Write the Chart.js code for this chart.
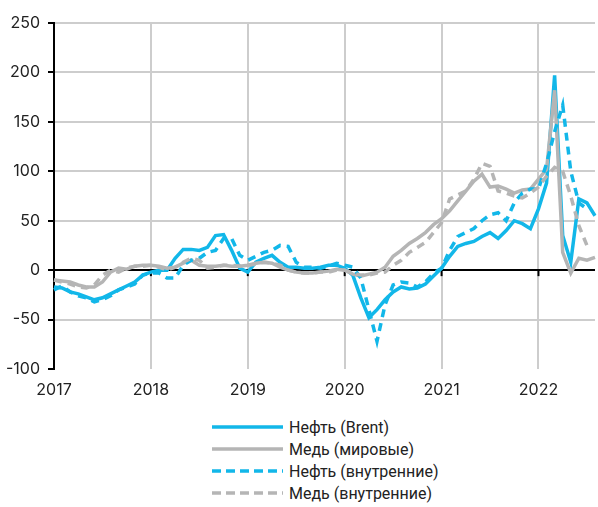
<!DOCTYPE html>
<html lang="ru">
<head>
  <meta charset="UTF-8">
  <title>Нефть и медь</title>
  <script src="https://cdn.jsdelivr.net/npm/chart.js"></script>
  <style>
    body { margin: 0; background: #fff; }
    #wrap { width: 598px; height: 400px; }
    #legend { margin-left: 212px; margin-top: 16px; font-family: Roboto, sans-serif; font-size: 16px; color: #222; }
    .item { display: flex; align-items: center; height: 22px; }
    .item svg { margin-right: 6px; }
  </style>
</head>
<body>
  <div id="wrap"><canvas id="chart" width="598" height="400"></canvas></div>
  <div id="legend"></div>
  <script>
    // ticks on the x axis, one per year; monthly data Jan 2017 - Aug 2022
    const years = ['2017', '2018', '2019', '2020', '2021', '2022'];
    const lastYearMonths = 8;

    const brent = [
      -17, -18, -22, -24, -27, -30, -28, -24, -20, -16, -12, -5,
      -2, 0, 0, 12, 21, 21, 20, 23, 35, 36, 20, 2,
      -2, 8, 12, 15, 8, 3, 3, 2, 2, 3, 5, 5,
      2, -5, -28, -48, -40, -30, -22, -17, -19, -18, -14, -6,
      2, 14, 24, 27, 29, 34, 38, 32, 40, 50, 47, 42,
      62, 88, 197, 35, 8, 72, 68, 55
    ];
    const copper = [
      -10, -11, -12, -15, -17, -17, -12, -2, 2, 1, 4, 5,
      5, 4, 2, 3, 7, 10, 5, 4, 4, 5, 4, 4,
      5, 7, 8, 7, 3, 0, -2, -3, -3, -2, -1, 1,
      0, -4, -6, -4, -2, 3, 14, 20, 27, 32, 38, 46,
      52, 60, 70, 80, 90, 97, 84, 85, 82, 78, 81, 82,
      92, 102, 182, 18, -3, 12, 10, 13
    ];
    const brentDom = [
      -20, -16, -22, -26, -28, -32, -30, -26, -20, -17, -14, -5,
      -3, -3, -8, -8, 5, 10, 12, 18, 20, 32, 32, 15,
      10, 14, 18, 20, 25, 24, 8, 3, 3, 2, 4, 7,
      5, 3, -8, -40, -72, -35, -15, -12, -13, -17, -12, -3,
      2, 20, 34, 38, 42, 50, 56, 58, 50, 68, 78, 82,
      82, 108, 140, 167, 100, 68, 62, null
    ];
    const copperDom = [
      -10, -12, -14, -17, -18, -15, -5, 0, -2, 2, 4, 4,
      5, 3, 0, 3, 8, 12, 10, 2, 3, 5, 5, 4,
      5, 6, 8, 7, 5, 0, -2, -3, -3, -2, -2, 0,
      0, -3, -5, -5, -3, -2, 5, 10, 18, 23, 28, 38,
      48, 72, 76, 80, 92, 108, 105, 80, 78, 75, 73, 78,
      84, 95, 104, 100, 75, 45, 25, null
    ];

    const BLUE = '#12b7e9';
    const GREY = '#b5b5b5';

    const labels = [];
    years.forEach((y, i) => {
      const n = i === years.length - 1 ? lastYearMonths : 12;
      for (let m = 1; m <= n; m++) labels.push(y + '-' + String(m).padStart(2, '0'));
    });

    const series = [
      { label: 'Нефть (Brent)', data: brent, color: BLUE, dash: [] },
      { label: 'Медь (мировые)', data: copper, color: GREY, dash: [] },
      { label: 'Нефть (внутренние)', data: brentDom, color: BLUE, dash: [8, 6] },
      { label: 'Медь (внутренние)', data: copperDom, color: GREY, dash: [8, 6] }
    ];

    // small black tick marks on the zero line at every January
    const zeroTicks = {
      id: 'zeroTicks',
      beforeDatasetsDraw(chart) {
        const c = chart.ctx, x = chart.scales.x, y0 = chart.scales.y.getPixelForValue(0);
        c.save();
        c.strokeStyle = '#000';
        c.lineWidth = 2;
        labels.forEach((l, i) => {
          if (i % 12 !== 0) return;
          const px = x.getPixelForValue(i);
          c.beginPath();
          c.moveTo(px, y0);
          c.lineTo(px, y0 + 6);
          c.stroke();
        });
        c.restore();
      }
    };

    new Chart(document.getElementById('chart'), {
      type: 'line',
      data: {
        labels: labels,
        datasets: series.map(s => ({
          label: s.label,
          data: s.data,
          borderColor: s.color,
          borderWidth: 3.5,
          borderDash: s.dash,
          pointRadius: 0,
          tension: 0,
          fill: false
        })).reverse()
      },
      options: {
        responsive: false,
        animation: false,
        layout: { padding: { top: 23, right: 3 } },
        plugins: { legend: { display: false }, tooltip: { enabled: false } },
        scales: {
          x: {
            border: { display: false },
            grid: { color: '#cdcdcd', lineWidth: 2, drawTicks: false },
            ticks: {
              autoSkip: false,
              maxRotation: 0,
              padding: 12,
              color: '#222',
              font: { family: 'Inter', size: 16 },
              callback: (v, i) => (i % 12 === 0 ? years[i / 12] : null)
            },
            afterFit: s => { s.height = 31; }
          },
          y: {
            min: -100,
            max: 250,
            border: { display: true, color: '#000', width: 2 },
            grid: {
              lineWidth: 2,
              tickLength: 6,
              tickColor: '#000',
              color: ctx => ctx.tick.value === 0 ? '#000' : (ctx.tick.value === -100 ? 'rgba(0,0,0,0)' : '#cdcdcd')
            },
            ticks: {
              stepSize: 50,
              padding: 8,
              color: '#222',
              font: { family: 'Inter', size: 16 }
            },
            afterFit: s => { s.width = 54; }
          }
        }
      },
      plugins: [zeroTicks]
    });

    // legend as a column under the chart
    const legend = document.getElementById('legend');
    series.forEach(s => {
      const row = document.createElement('div');
      row.className = 'item';
      row.innerHTML = '<svg width="71" height="6"><line x1="0" y1="3" x2="71" y2="3" stroke="' + s.color +
        '" stroke-width="3.5" stroke-dasharray="' + (s.dash.length ? '9,5' : 'none') + '"/></svg><span>' + s.label + '</span>';
      legend.appendChild(row);
    });
  </script>
</body>
</html>
